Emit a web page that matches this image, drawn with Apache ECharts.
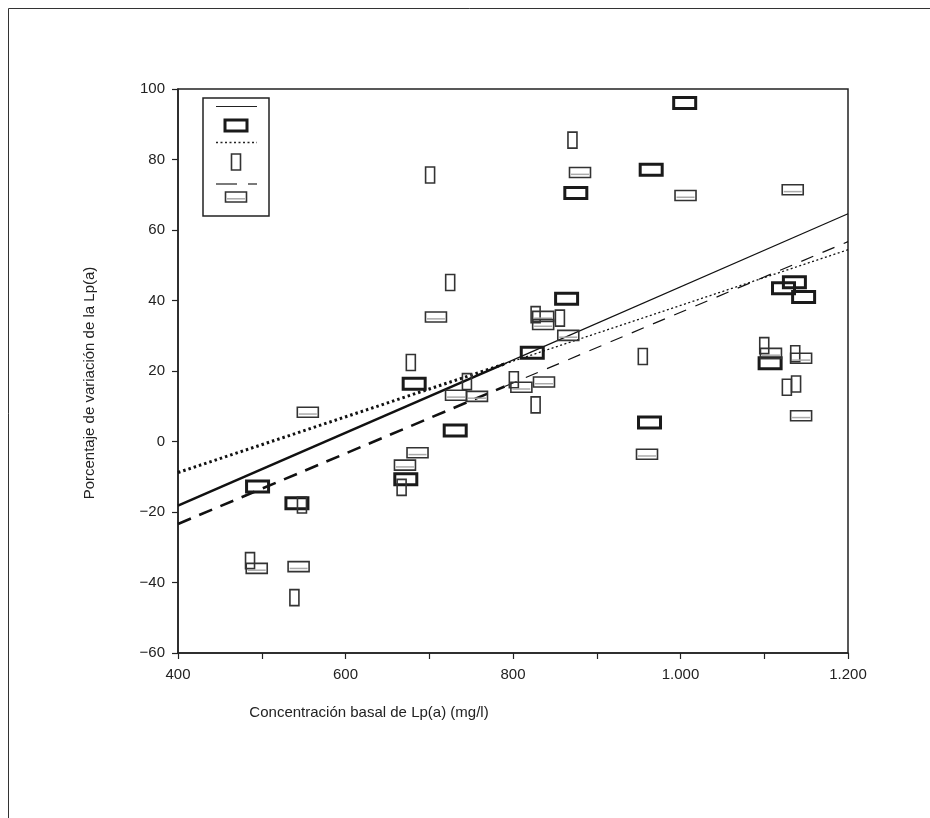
<!DOCTYPE html>
<html>
<head>
<meta charset="utf-8">
<script src="https://cdn.jsdelivr.net/npm/echarts@6/dist/echarts.min.js"></script>
<style>
  html, body { margin: 0; padding: 0; background: #fff; }
  #chart { width: 930px; height: 818px; }
</style>
</head>
<body>
<div id="chart"></div>
<script>
// puntos (x = Lp(a) basal, y = % variación)
const groupA = [[495, -12.8], [542, -17.5], [672, -10.7], [682, 16.4], [731, 3.1], [823, 25.2],
  [864, 40.5], [875, 70.5], [965, 77.1], [963, 5.4], [1005, 96], [1107, 22.2], [1123, 43.5],
  [1136, 45.2], [1147, 41]]
const groupB = [[486, -33.8], [539, -44.3], [548, -18], [667, -13], [678, 22.4], [701, 75.6],
  [725, 45.1], [745, 17], [801, 17.5], [827, 36], [827, 10.4], [856, 35], [871, 85.5],
  [955, 24.1], [1100, 27.2], [1127, 15.4], [1137, 24.9], [1138, 16.3]]
const groupC = [[494, -36], [544, -35.5], [555, 8.3], [671, -6.7], [686, -3.2], [708, 35.3],
  [732, 13.1], [757, 12.8], [810, 15.4], [836, 35.5], [836, 33.2], [837, 16.9], [866, 30.1],
  [880, 76.3], [960, -3.6], [1006, 69.8], [1108, 25], [1134, 71.4], [1144, 23.6], [1144, 7.3]]

// rectas de regresión (extremos, tramo grueso / tramo fino)
const solidThick = [[400, -18.2], [790, 22.1]]
const solidThin = [[790, 22.1], [1200, 64.6]]
const dottedThick = [[400, -8.8], [790, 22.0]]
const dottedThin = [[790, 22.0], [1200, 54.4]]
const dashedThick = [[400, -23.4], [790, 15.6]]
const dashedThin = [[790, 15.6], [1200, 56.7]]

const xTicks = [400, 600, 800, 1000, 1200]
const yTicks = [-60, -40, -20, 0, 20, 40, 60, 80, 100]

const FONT = 'Liberation Sans, Arial, sans-serif'
const INK = '#222'

const fmtX = v => v >= 1000 ? String(v).replace(/(\d)(\d{3})$/, '$1.$2') : String(v)
const fmtY = v => v < 0 ? '\u2212' + Math.abs(v) : String(v)

// estilos de marcador
const markA = { w: 22, h: 11, lw: 3, stroke: '#1a1a1a' }
const markB = { w: 9, h: 16, lw: 1.6, stroke: '#333' }
const markC = { w: 21, h: 10, lw: 1.6, stroke: '#333', inner: '#aaa' }

const boxRenderer = m => (params, api) => {
  const p = api.coord([api.value(0), api.value(1)])
  const children = [{
    type: 'rect',
    shape: { x: p[0] - m.w / 2, y: p[1] - m.h / 2, width: m.w, height: m.h },
    style: { fill: 'none', stroke: m.stroke, lineWidth: m.lw }
  }]
  if (m.inner) {
    children.push({
      type: 'line',
      shape: { x1: p[0] - m.w / 2 + 1.5, y1: p[1] + 1.8, x2: p[0] + m.w / 2 - 1.5, y2: p[1] + 1.8 },
      style: { stroke: m.inner, lineWidth: 1.5 }
    })
  }
  return { type: 'group', children }
}

const lineSeries = (data, width, dash) => ({
  type: 'line',
  data,
  symbol: 'none',
  silent: true,
  lineStyle: { color: '#111', width, type: dash || 'solid', cap: 'butt' },
  z: 2
})

const chart = echarts.init(document.getElementById('chart'))

// leyenda dibujada a mano (sin textos, como en el original)
const legendX = 236
const legend = [
  { type: 'rect', shape: { x: 203, y: 98, width: 66, height: 118 }, style: { fill: 'none', stroke: INK, lineWidth: 1.5 } },
  { type: 'line', shape: { x1: 216, y1: 106.5, x2: 257, y2: 106.5 }, style: { stroke: INK, lineWidth: 1.2 } },
  { type: 'rect', shape: { x: legendX - 11, y: 120, width: 22, height: 11 }, style: { fill: 'none', stroke: '#1a1a1a', lineWidth: 3 } },
  { type: 'line', shape: { x1: 216, y1: 142.5, x2: 257, y2: 142.5 }, style: { stroke: INK, lineWidth: 1.3, lineDash: [2, 2.5] } },
  { type: 'rect', shape: { x: legendX - 4.5, y: 154, width: 9, height: 16 }, style: { fill: 'none', stroke: '#333', lineWidth: 1.6 } },
  { type: 'line', shape: { x1: 216, y1: 184, x2: 237, y2: 184 }, style: { stroke: INK, lineWidth: 1.2 } },
  { type: 'line', shape: { x1: 248, y1: 184, x2: 257, y2: 184 }, style: { stroke: INK, lineWidth: 1.2 } },
  { type: 'rect', shape: { x: legendX - 10.5, y: 192, width: 21, height: 10 }, style: { fill: 'none', stroke: '#333', lineWidth: 1.6 } },
  { type: 'line', shape: { x1: legendX - 9, y1: 198.8, x2: legendX + 9, y2: 198.8 }, style: { stroke: '#aaa', lineWidth: 1.5 } }
]

const option = {
  backgroundColor: '#fff',
  animation: false,
  grid: { left: 178, right: 82, top: 89, bottom: 165, show: true, borderColor: INK, borderWidth: 1.5 },
  xAxis: {
    type: 'value',
    min: 400,
    max: 1200,
    interval: 100,
    axisLine: { onZero: false, lineStyle: { color: INK, width: 1.5 } },
    axisTick: { show: true, length: 6, lineStyle: { color: INK, width: 1.2 } },
    splitLine: { show: false },
    axisLabel: {
      fontFamily: FONT, fontSize: 15, color: INK, margin: 14,
      formatter: v => xTicks.includes(v) ? fmtX(v) : ''
    }
  },
  yAxis: {
    type: 'value',
    min: -60,
    max: 100,
    interval: 20,
    axisLine: { show: true, onZero: false, lineStyle: { color: INK, width: 1.5 } },
    axisTick: { show: true, length: 6, lineStyle: { color: INK, width: 1.2 } },
    splitLine: { show: false },
    axisLabel: {
      fontFamily: FONT, fontSize: 15, color: INK, margin: 13,
      formatter: v => yTicks.includes(v) ? fmtY(v) : ''
    }
  },
  graphic: [
    { type: 'polyline', shape: { points: [[8.5, 818], [8.5, 8.5], [930, 8.5]] }, style: { fill: 'none', stroke: '#333', lineWidth: 1 } },
    {
      type: 'text', x: 369, y: 713,
      style: { text: 'Concentración basal de Lp(a) (mg/l)', fontFamily: FONT, fontSize: 15, fill: INK, align: 'center', verticalAlign: 'middle' }
    },
    {
      type: 'text', x: 90, y: 383, rotation: Math.PI / 2,
      style: { text: 'Porcentaje de variación de la Lp(a)', fontFamily: FONT, fontSize: 15, fill: INK, align: 'center', verticalAlign: 'middle' }
    },
    ...legend
  ],
  series: [
    lineSeries(solidThick, 2.6),
    lineSeries(solidThin, 1.2),
    lineSeries(dottedThick, 3, [2.5, 3]),
    lineSeries(dottedThin, 1.3, [2, 2.5]),
    lineSeries(dashedThick, 2.6, [14, 9]),
    lineSeries(dashedThin, 1.2, [13, 10]),
    { type: 'custom', data: groupA, renderItem: boxRenderer(markA), z: 3 },
    { type: 'custom', data: groupB, renderItem: boxRenderer(markB), z: 3 },
    { type: 'custom', data: groupC, renderItem: boxRenderer(markC), z: 3 }
  ]
}

chart.setOption(option)
</script>
</body>
</html>
